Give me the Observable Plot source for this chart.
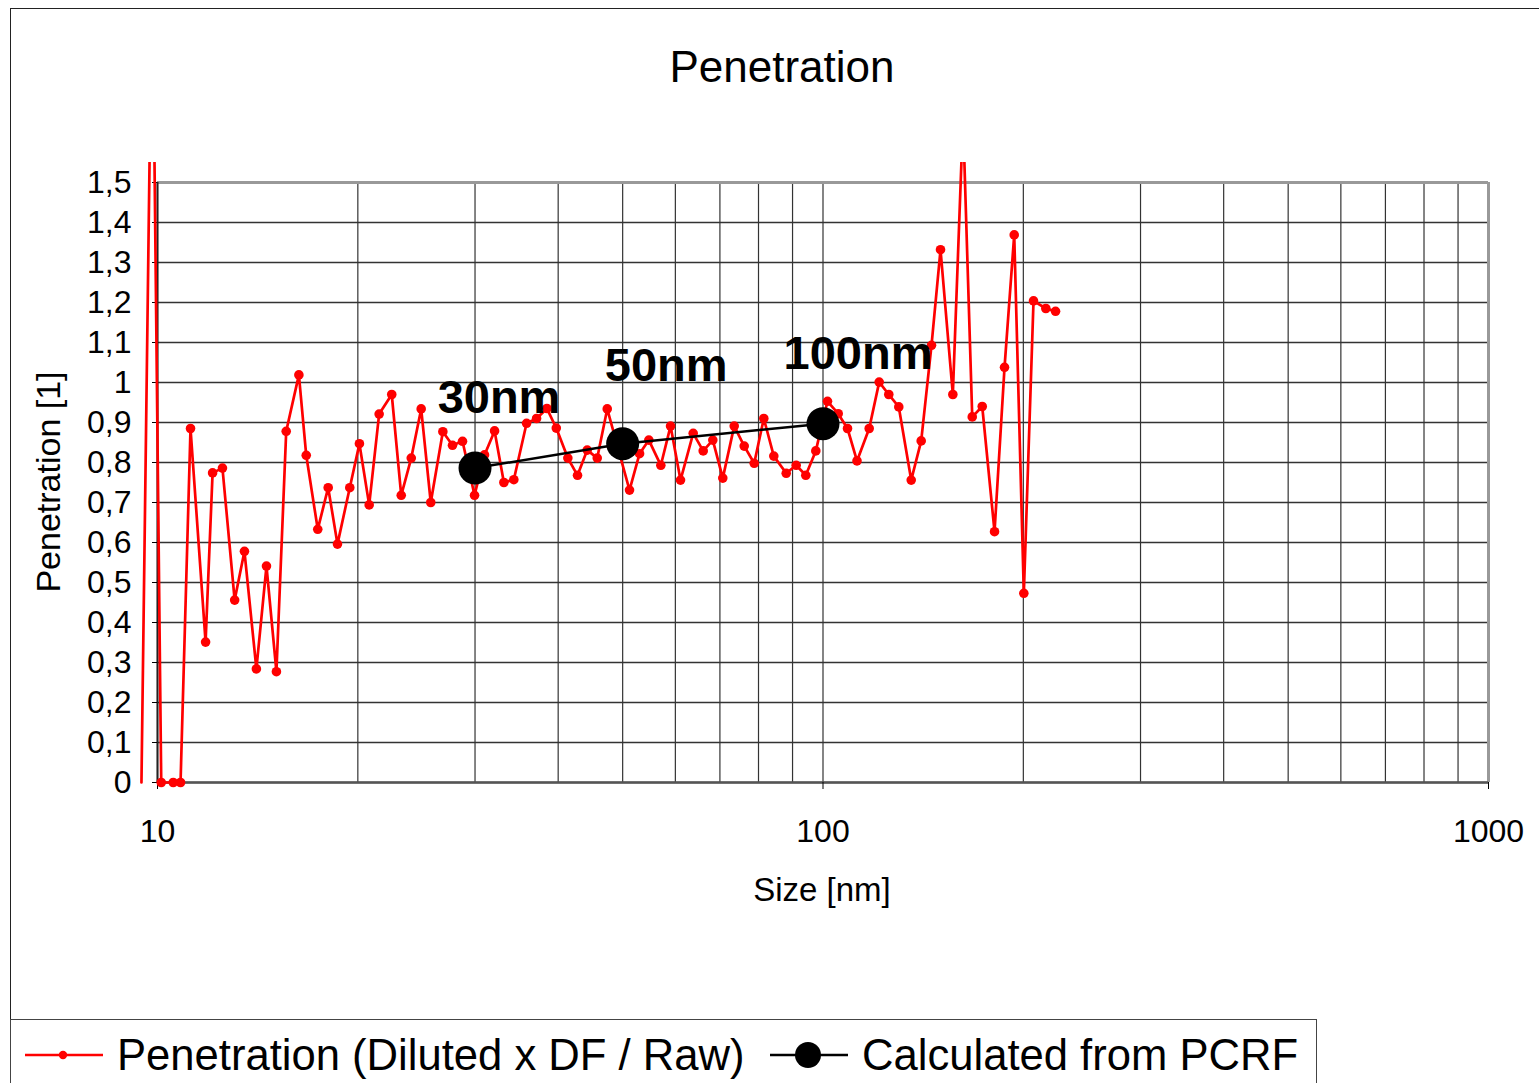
<!DOCTYPE html>
<html><head><meta charset="utf-8">
<script src="https://cdn.jsdelivr.net/npm/d3@7"></script>
<script src="https://cdn.jsdelivr.net/npm/@observablehq/plot@0.6"></script>
<style>
html,body{margin:0;padding:0;background:#fff;}
#wrap{position:relative;width:1539px;height:1083px;overflow:hidden;font-family:"Liberation Sans",Arial,sans-serif;color:#000;}
.frame{position:absolute;left:10px;top:8px;width:1600px;height:1200px;border:1.5px solid #222;box-sizing:border-box;}
.legendbox{position:absolute;left:10px;top:1019px;width:1307px;height:100px;border:1.5px solid #444;box-sizing:border-box;background:#fff;}
.t{position:absolute;line-height:1;white-space:nowrap;}
#chart{position:absolute;left:0;top:162px;}
#chart svg{overflow:hidden !important;}
#legsvg{position:absolute;left:0;top:1019px;}
</style></head>
<body>
<div id="wrap">
  <div class="frame"></div>
  <div class="t" id="title" style="font-size:44px;left:0;width:1564px;text-align:center;top:45px;">Penetration</div>
  <div id="chart"></div>
  <div class="t" style="font-size:33px;left:722px;width:200px;text-align:center;top:873px;">Size [nm]</div>
  <div class="t" style="font-size:34px;left:47.6px;top:482px;transform:translate(-50%,-50%) rotate(-90deg);">Penetration [1]</div>
  <div class="legendbox"></div>
  <svg id="legsvg" width="1320" height="64">
    <line x1="25" x2="103" y1="36" y2="36" stroke="#ff0000" stroke-width="2.7"/>
    <circle cx="63" cy="36" r="4.2" fill="#ff0000"/>
    <line x1="770" x2="848" y1="36" y2="36" stroke="#000" stroke-width="2.5"/>
    <circle cx="808" cy="36" r="13" fill="#000"/>
  </svg>
  <div class="t" style="font-size:43.6px;left:117px;top:1034px;">Penetration (Diluted x DF / Raw)</div>
  <div class="t" style="font-size:43.6px;left:862px;top:1034px;">Calculated from PCRF</div>
</div>
<script>
// Measured series: particle size [nm] and penetration [1]
const sizes = [9.46, 9.82, 10.13, 10.56, 10.83, 11.21, 11.81, 12.10, 12.52, 13.06,
  13.51, 14.08, 14.58, 15.09, 15.61, 16.31, 16.73, 17.41, 18.05, 18.64,
  19.45, 20.11, 20.80, 21.53, 22.49, 23.24, 24.06, 24.90, 25.74, 26.84,
  27.75, 28.73, 29.95, 31.00, 32.10, 33.15, 34.31, 35.86, 37.12, 38.47,
  39.74, 41.36, 42.77, 44.23, 45.79, 47.40, 49.12, 51.20, 53.01, 54.74,
  57.06, 59.01, 61.08, 63.82, 66.07, 68.30, 70.70, 73.55, 76.14, 78.82,
  81.48, 84.35, 88.05, 91.14, 94.22, 97.54, 101.57, 105.40, 108.85, 112.48,
  117.33, 121.46, 125.56, 129.98, 135.69, 140.46, 145.56, 150.17, 156.71, 162.34,
  167.59, 173.49, 181.03, 187.40, 193.79, 200.34, 207.17, 216.19, 223.58];
const penetration = [0, 2.07, 0, 0, 0, 0.885, 0.351, 0.774, 0.786, 0.456,
  0.578, 0.284, 0.541, 0.277, 0.878, 1.019, 0.818, 0.633, 0.737, 0.596,
  0.737, 0.847, 0.694, 0.921, 0.970, 0.718, 0.811, 0.934, 0.700, 0.877,
  0.843, 0.853, 0.718, 0.819, 0.879, 0.750, 0.757, 0.898, 0.910, 0.935,
  0.886, 0.811, 0.768, 0.831, 0.811, 0.934, 0.840, 0.731, 0.822, 0.856,
  0.793, 0.891, 0.756, 0.873, 0.829, 0.856, 0.761, 0.891, 0.841, 0.798,
  0.910, 0.816, 0.773, 0.793, 0.768, 0.829, 0.953, 0.922, 0.885, 0.804,
  0.885, 1.001, 0.970, 0.939, 0.756, 0.854, 1.093, 1.332, 0.970, 1.66,
  0.914, 0.940, 0.627, 1.038, 1.369, 0.473, 1.204, 1.185, 1.178];
// Calculated from PCRF
const pcrfSizes = [30, 50, 100];
const pcrfValues = [0.786, 0.847, 0.897];
const pcrfLabels = ["30nm", "50nm", "100nm"];
// Axes
const yTicks = [0, 0.1, 0.2, 0.3, 0.4, 0.5, 0.6, 0.7, 0.8, 0.9, 1, 1.1, 1.2, 1.3, 1.4, 1.5];
const xTicks = [10, 100, 1000];
const xGrid = [10, 20, 30, 40, 50, 60, 70, 80, 90, 100, 200, 300, 400, 500, 600, 700, 800, 900, 1000];

const data = sizes.map((s, i) => ({size: s, value: penetration[i]}));
const pcrf = pcrfSizes.map((s, i) => ({size: s, value: pcrfValues[i], label: pcrfLabels[i]}));
const labelOffsets = [[24, -55], [43.5, -63], [35, -55]];
const fmt = d => String(Math.round(d * 10) / 10).replace(".", ",");

const chart = Plot.plot({
  width: 1539, height: 760,
  marginTop: 20, marginBottom: 140, marginLeft: 157, marginRight: 51,
  x: {type: "log", domain: [10, 1000]},
  y: {domain: [0, 1.5]},
  style: {fontFamily: '"Liberation Sans", Arial, sans-serif', background: "transparent", overflow: "hidden", color: "#000"},
  marks: [
    Plot.ruleX(xGrid, {stroke: "#333", strokeWidth: 1.2}),
    Plot.ruleY(yTicks, {stroke: "#333", strokeWidth: 1.5}),
    Plot.ruleY([1.5], {stroke: "#999", strokeWidth: 3}),
    Plot.ruleX([1000], {stroke: "#999", strokeWidth: 3}),
    Plot.ruleY([0], {stroke: "#555", strokeWidth: 2.5}),
    Plot.ruleX([10], {stroke: "#222", strokeWidth: 2}),
    Plot.axisY(yTicks, {tickFormat: fmt, fontSize: 32, tickSize: 5, tickPadding: 21, label: null}),
    Plot.axisX(xTicks, {tickFormat: d => String(d), fontSize: 32, tickSize: 7, tickPadding: 30, label: null}),
    Plot.line(data, {x: "size", y: "value", stroke: "#ff0000", strokeWidth: 2.7}),
    Plot.dot(data.filter(d => d.size >= 10 && d.value <= 1.5), {x: "size", y: "value", r: 4.8, fill: "#ff0000"}),
    Plot.line(pcrf, {x: "size", y: "value", stroke: "#000", strokeWidth: 2.5}),
    Plot.dot(pcrf, {x: "size", y: "value", r: 16.5, fill: "#000"}),
    ...pcrf.map((p, i) => Plot.text([p], {
      x: "size", y: "value", text: "label",
      dx: labelOffsets[i][0], dy: labelOffsets[i][1],
      fontSize: 47, fontWeight: "bold", lineAnchor: "bottom", fill: "#000"
    }))
  ]
});
document.getElementById("chart").appendChild(chart);
</script>
</body></html>
